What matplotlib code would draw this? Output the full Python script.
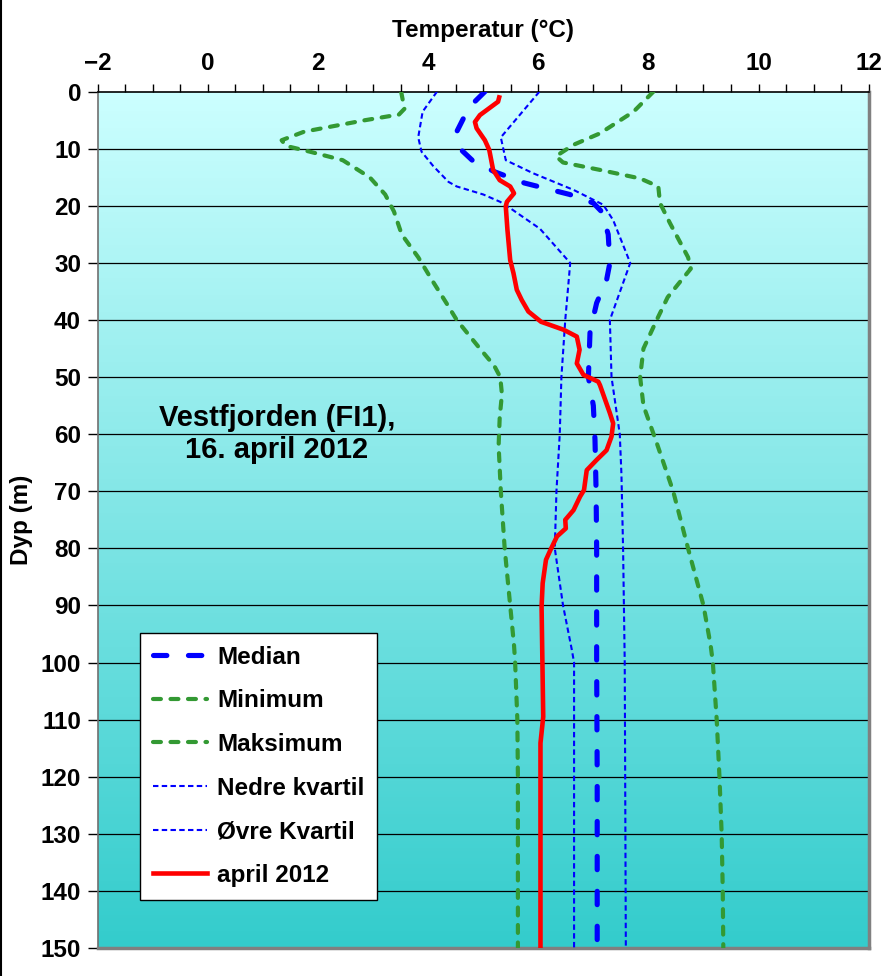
import numpy as np
import matplotlib
matplotlib.use("Agg")
import matplotlib.pyplot as plt
from matplotlib.lines import Line2D
from matplotlib.colors import LinearSegmentedColormap

plt.rcParams['font.family'] = ['Liberation Sans', 'DejaVu Sans']
plt.rcParams['font.weight'] = 'bold'

# ---------------- data ----------------
x_ticks = [-2, 0, 2, 4, 6, 8, 10, 12]
y_ticks = list(range(0, 151, 10))

med_depth = [0, 2, 4.5, 7, 10, 12, 14, 16, 18, 19.5, 21, 25, 30, 33, 37, 42, 50, 55, 61, 70, 80, 100, 120, 150]
med_temp = [5.03, 4.82, 4.65, 4.52, 4.58, 4.8, 5.2, 5.75, 6.57, 7.0, 7.15, 7.27, 7.3, 7.24, 7.06, 6.94, 6.91, 7.0, 7.03, 7.05, 7.06, 7.06, 7.07, 7.07]

min_depth = [0, 3, 4, 5, 7, 8.5, 9.5, 10.5, 12, 15, 18, 21, 25, 29, 33, 37, 40, 45, 48, 50, 53, 57, 62, 70, 80, 90, 97, 100, 110, 120, 130, 140, 150]
min_temp = [3.51, 3.57, 3.47, 2.85, 1.75, 1.34, 1.42, 1.85, 2.45, 2.94, 3.22, 3.38, 3.52, 3.82, 4.07, 4.33, 4.52, 4.94, 5.2, 5.31, 5.34, 5.3, 5.28, 5.32, 5.39, 5.49, 5.56, 5.58, 5.62, 5.63, 5.63, 5.63, 5.63]

max_depth = [0, 3.5, 7.3, 9.3, 11.3, 12.4, 13.7, 15.2, 16.6, 19.5, 23, 29, 31, 33, 36, 40, 45, 50, 55, 61.5, 70, 80, 90, 97, 100, 110, 120, 130, 140, 150]
max_temp = [8.09, 7.73, 7.12, 6.64, 6.32, 6.45, 7.12, 7.85, 8.18, 8.21, 8.39, 8.72, 8.77, 8.6, 8.35, 8.15, 7.91, 7.85, 7.91, 8.15, 8.45, 8.72, 9.0, 9.13, 9.17, 9.24, 9.29, 9.33, 9.35, 9.36]

lq_depth = [0, 3.5, 8, 10.5, 13, 15.8, 16.6, 18, 19.3, 20.4, 24, 30, 40, 50, 60, 70, 80, 90, 97.8, 100, 150]
lq_temp = [4.16, 3.9, 3.82, 3.88, 4.09, 4.37, 4.52, 5.0, 5.31, 5.49, 6.03, 6.58, 6.49, 6.42, 6.39, 6.33, 6.3, 6.45, 6.61, 6.65, 6.65]

uq_depth = [0, 8, 12, 14.3, 17.2, 19.8, 22.5, 30, 40, 50, 60, 67, 80, 100, 150]
uq_temp = [6.02, 5.32, 5.41, 5.91, 6.64, 7.18, 7.36, 7.67, 7.3, 7.33, 7.48, 7.51, 7.54, 7.57, 7.59]

apr_depth = [1, 1.75, 4.1, 5.3, 6.4, 8.5, 10.2, 13.7, 15.5, 16.6, 17.8, 19.3, 20.1, 24.2, 29.5, 31.8, 34.7, 36.5, 38.5, 40.3, 41.7, 42.9, 45.2, 47.6, 49.6, 50.8, 51.4, 56.3, 58.1, 60.4, 62.8, 64.5, 66.3, 69.8, 70.9, 73.3, 75, 76.5, 77.9, 80.3, 82, 86.1, 90.2, 109.5, 114.1, 150]
apr_temp = [5.29, 5.27, 4.94, 4.85, 4.88, 5.03, 5.11, 5.18, 5.30, 5.49, 5.56, 5.43, 5.41, 5.44, 5.49, 5.55, 5.61, 5.70, 5.82, 6.05, 6.46, 6.70, 6.75, 6.70, 6.82, 7.09, 7.12, 7.30, 7.36, 7.33, 7.24, 7.06, 6.88, 6.83, 6.76, 6.64, 6.49, 6.50, 6.34, 6.22, 6.14, 6.08, 6.06, 6.09, 6.04, 6.04]

labels = ["Median", "Minimum", "Maksimum", "Nedre kvartil", "Øvre Kvartil", "april 2012"]

# ---------------- figure ----------------
W, H = 895, 976
fig = plt.figure(figsize=(W / 100, H / 100), dpi=100)
ax_l, ax_r, ax_t, ax_b = 97.7, 868.7, 91.7, 948.0
ax = fig.add_axes([ax_l / W, 1 - ax_b / H, (ax_r - ax_l) / W, (ax_b - ax_t) / H])

ax.set_xlim(-2, 12)
ax.set_ylim(150, 0)

# gradient background
cmap = LinearSegmentedColormap.from_list("bg", ["#CCFFFF", "#33CCCC"])
grad = np.linspace(0, 1, 256).reshape(-1, 1)
ax.imshow(grad, cmap=cmap, aspect='auto', extent=[-2, 12, 150, 0], zorder=0)

# horizontal grid lines
for yv in y_ticks[1:-1]:
    ax.axhline(yv, color='black', lw=0.9, zorder=1)

green = '#339933'
blue = '#0000FF'

l_med, = ax.plot(med_temp, med_depth, color=blue, lw=3.7, dashes=(2.6, 4.2),
                 dash_capstyle='round', zorder=5, label=labels[0])
l_min, = ax.plot(min_temp, min_depth, color=green, lw=3.0, dashes=(1.9, 2.3),
                 dash_capstyle='round', zorder=4, label=labels[1])
l_max, = ax.plot(max_temp, max_depth, color=green, lw=3.0, dashes=(1.9, 2.3),
                 dash_capstyle='round', zorder=4, label=labels[2])
l_lq, = ax.plot(lq_temp, lq_depth, color=blue, lw=1.5, dashes=(2.6, 1.6),
                zorder=3, label=labels[3])
l_uq, = ax.plot(uq_temp, uq_depth, color=blue, lw=1.5, dashes=(2.6, 1.6),
                zorder=3, label=labels[4])
l_apr, = ax.plot(apr_temp, apr_depth, color='#FF0000', lw=3.3, zorder=6,
                 solid_joinstyle='round', label=labels[5])

FS = 17.5

# axes styling
ax.xaxis.set_ticks_position('top')
ax.xaxis.set_label_position('top')
ax.set_xticks(x_ticks)
ax.set_xticks(np.arange(-2, 12.01, 0.5), minor=True)
ax.set_yticks(y_ticks)
ax.tick_params(axis='x', which='both', direction='out', length=6, width=1,
               labelsize=FS, pad=6, colors='black')
ax.tick_params(axis='y', which='both', direction='out', length=7, width=1,
               labelsize=FS, pad=5)
for t in ax.get_xticklabels() + ax.get_yticklabels():
    t.set_fontweight('bold')

ax.spines['top'].set_color('black')
ax.spines['top'].set_linewidth(1.2)
ax.spines['left'].set_color('#707070')
ax.spines['left'].set_linewidth(1.2)
ax.spines['right'].set_color('#808080')
ax.spines['right'].set_linewidth(2.5)
ax.spines['bottom'].set_color('#808080')
ax.spines['bottom'].set_linewidth(2.5)

ax.set_xlabel("Temperatur (°C)", fontsize=FS, fontweight='bold', labelpad=11)
fig.text(22 / W, 1 - 520 / H, "Dyp (m)", rotation=90, fontsize=FS,
         fontweight='bold', ha='center', va='center')

# annotation
fig.text(277 / W, 1 - 434 / H, "Vestfjorden (FI1),\n16. april 2012", fontsize=21,
         fontweight='bold', ha='center', va='center', linespacing=1.15)

# legend
lx0 = (140 - ax_l) / (ax_r - ax_l)
ly1 = (ax_b - 633) / (ax_b - ax_t)
leg = ax.legend(handles=[l_med, l_min, l_max, l_lq, l_uq, l_apr],
                loc='upper left', bbox_to_anchor=(lx0, ly1),
                prop={'weight': 'bold', 'size': FS}, frameon=True,
                fancybox=False, edgecolor='black', framealpha=1,
                facecolor='white', handlelength=2.25, handletextpad=0.4,
                labelspacing=0.85, borderpad=0.52, borderaxespad=0)
leg.get_frame().set_linewidth(1.0)
leg.set_zorder(10)

# figure left border line
fig.add_artist(Line2D([1.5 / W, 1.5 / W], [0, 1], color='black', lw=1.5,
                      transform=fig.transFigure))

fig.savefig("out.png", dpi=100)
